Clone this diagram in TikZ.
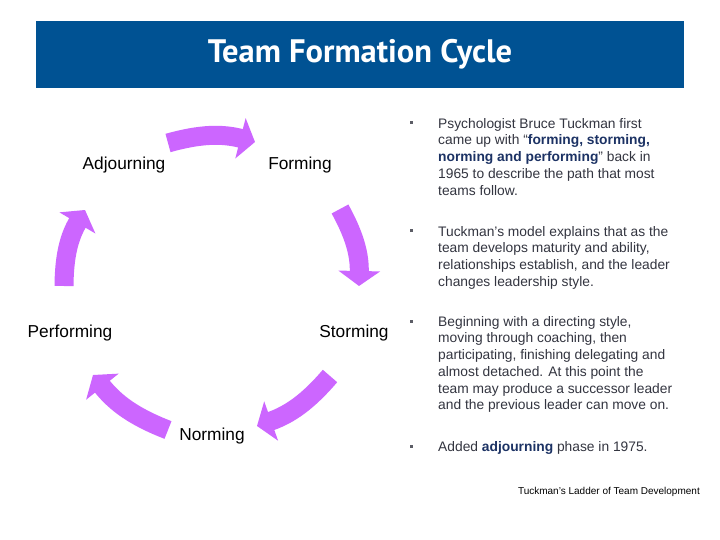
\documentclass[tikz,border=0pt]{standalone}
\usepackage{fontspec}
\setmainfont{Liberation Sans}
\newfontfamily\titlefont{PT Sans}
\usetikzlibrary{arrows.meta}
\definecolor{BarBlue}{RGB}{0,82,147}
\definecolor{CyclePurple}{RGB}{204,102,255}
\definecolor{BodyGrey}{RGB}{51,53,64}
\definecolor{KeyNavy}{RGB}{28,50,100}
\newcommand{\keyword}[1]{\textbf{\color{KeyNavy}#1}}

\begin{document}
\begin{tikzpicture}[
  x=1bp, y=1bp,
  stage/.style={anchor=base,inner sep=0pt,font=\fontsize{17.3bp}{20bp}\selectfont},
  cyc/.style={draw=CyclePurple,line width=19bp,-{Triangle[width=41bp,length=15bp]},bend left=15},
  para/.style={anchor=north west,inner sep=0pt,align=left,text=BodyGrey,font=\fontsize{13.8bp}{16.75bp}\selectfont},
  dot/.style={fill=BodyGrey!80,minimum size=3bp,inner sep=0pt}
]
\useasboundingbox[fill=white] (0,0) rectangle (720,-540);
\node[fill=BarBlue,minimum width=648bp,minimum height=67bp,inner sep=0pt,text=white,font=\titlefont\bfseries\fontsize{32.5bp}{38bp}\selectfont] (bar) at (360,-54.5) {Team Formation Cycle};

\node[stage] (adjourn) at (124,-170) {Adjourning};
\node[stage] (form) at (300,-170) {Forming};
\node[stage] (storm) at (354,-337) {Storming};
\node[stage] (norm) at (212,-440) {Norming};
\node[stage] (perform) at (70,-337) {Performing};

\coordinate (a1s) at (168,-143); \coordinate (a1e) at (255,-142);
\coordinate (a2s) at (340,-209); \coordinate (a2e) at (359,-286);
\coordinate (a3s) at (330,-376); \coordinate (a3e) at (257,-426);
\coordinate (a4s) at (168,-430); \coordinate (a4e) at (93,-375);
\coordinate (a5s) at (64,-286);  \coordinate (a5e) at (85,-210);
\draw[cyc] (a1s) to (a1e);
\draw[cyc] (a2s) to (a2e);
\draw[cyc] (a3s) to (a3e);
\draw[cyc] (a4s) to (a4e);
\draw[cyc] (a5s) to (a5e);

\node[dot] (b1) at (411,-123) {};
\node[dot] (b2) at (411,-231) {};
\node[dot] (b3) at (411,-321) {};
\node[dot] (b4) at (411,-446) {};
\node[para] (p1) at (438,-118) {Psychologist Bruce Tuckman first\\
  came up with “\keyword{forming, storming,}\\
  \keyword{norming and performing}” back in\\
  1965 to describe the path that most\\
  teams follow.};
\node[para] (p2) at (438,-226) {Tuckman's model explains that as the\\
  team develops maturity and ability,\\
  relationships establish, and the leader\\
  changes leadership style.};
\node[para] (p3) at (438,-316) {Beginning with a directing style,\\
  moving through coaching, then\\
  participating, finishing delegating and\\
  almost detached. At this point the\\
  team may produce a successor leader\\
  and the previous leader can move on.};
\node[para] (p4) at (438,-441) {Added \keyword{adjourning} phase in 1975.};

\node[anchor=base east,inner sep=0pt,font=\fontsize{10bp}{12bp}\selectfont] (source) at (700,-494) {Tuckman's Ladder of Team Development};
\end{tikzpicture}
\end{document}
